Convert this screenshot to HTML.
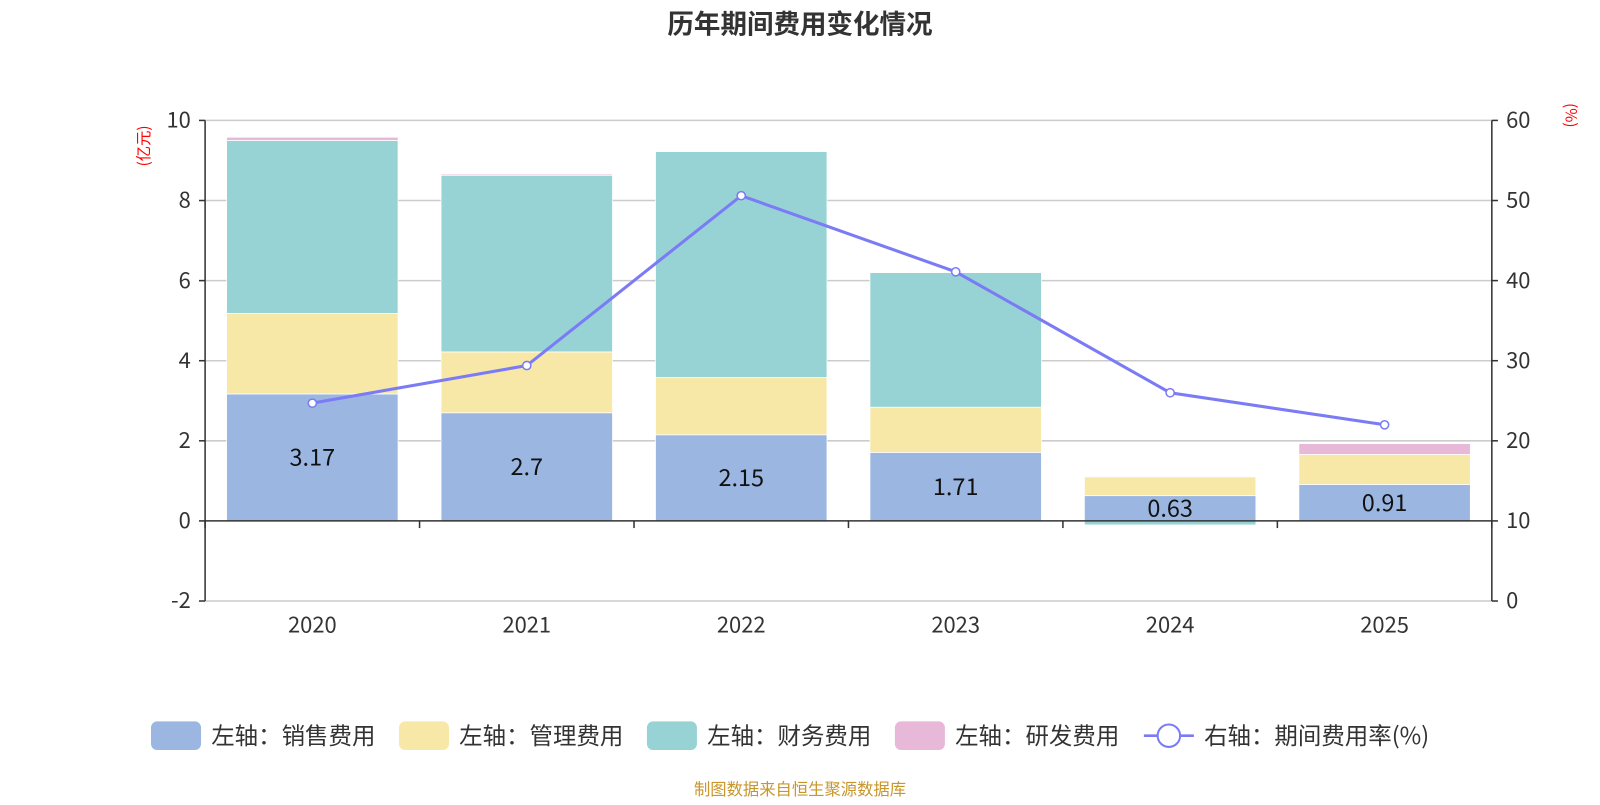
<!DOCTYPE html>
<html><head><meta charset="utf-8"><style>
body{margin:0;background:#fff;}
svg text{font-family:"Noto Sans CJK SC","Liberation Sans",sans-serif;}
</style></head><body>
<svg id="chart" width="1600" height="800" xmlns="http://www.w3.org/2000/svg">
<g transform="scale(1.0204)">
<text x="784" y="33" text-anchor="middle" font-size="26" font-weight="bold" fill="#333">历年期间费用变化情况</text>
<text transform="translate(146,143) rotate(-90)" text-anchor="middle" font-size="15" fill="#f00">(亿元)</text>
<text transform="translate(1534,113) rotate(90)" text-anchor="middle" font-size="15" fill="#f00">(%)</text>
<g id="grid"></g><g id="bars"></g><g id="axes"></g><g id="line"></g><g id="legend"></g>
<text x="784" y="779" text-anchor="middle" font-size="16" fill="#c8962a">制图数据来自恒生聚源数据库</text>
</g>
</svg>
<script>
const categories=['2020','2021','2022','2023','2024','2025'];
const sales=[3.17,2.7,2.15,1.71,0.63,0.91];
const mgmt=[2.01,1.52,1.43,1.13,0.47,0.75];
const fin=[4.32,4.41,5.64,3.36,-0.1,0.0];
const rd=[0.08,0.03,0.02,0,0,0.27];
const rate=[24.7,29.4,50.6,41.1,26.0,22.0];
const leftTicks=[-2,0,2,4,6,8,10];
const rightTicks=[0,10,20,30,40,50,60];
const NS='http://www.w3.org/2000/svg';
const L=201,R=1462,T=118,B=589;
const yL=v=>T+(10-v)*(B-T)/12;
const yR=v=>B-v*(B-T)/60;
const bw=(R-L)/categories.length;
const xC=i=>L+bw*(i+0.5);
function mk(tag,attrs,parent){const e=document.createElementNS(NS,tag);for(const k in attrs)e.setAttribute(k,attrs[k]);document.getElementById(parent).appendChild(e);return e;}
leftTicks.forEach(t=>{
 if(t!==0){const g=mk('line',{x1:L,x2:R,y1:yL(t),y2:yL(t),stroke:'#ccc','stroke-width':1.5},'grid');
 
 }
 const tx=mk('text',{x:L-14,y:yL(t)+7,'text-anchor':'end','font-size':21.5,fill:'#333'},'axes');tx.textContent=t;
 
 
 mk('line',{x1:L-6,x2:L,y1:yL(t),y2:yL(t),stroke:'#333','stroke-width':1.5},'axes');
});
rightTicks.forEach(t=>{
 const tx=mk('text',{x:R+14,y:yR(t)+7,'font-size':21.5,fill:'#333'},'axes');tx.textContent=t;
 
 
 mk('line',{x1:R,x2:R+6,y1:yR(t),y2:yR(t),stroke:'#333','stroke-width':1.5},'axes');
});
const series=[[sales,'#9bb7e1','sales'],[mgmt,'#f8e8a8','mgmt'],[fin,'#97d3d5','finance'],[rd,'#e8b8d8','rd']];
categories.forEach((c,i)=>{
 let pos=0,neg=0;
 series.forEach(([arr,col,nm])=>{
  const v=arr[i];if(v===0)return;
  let y0,y1;
  if(v>0){y0=pos;y1=pos+v;pos=y1;}else{y0=neg+v;y1=neg;neg=y0;}
  const r=mk('rect',{x:xC(i)-84,width:168,y:yL(y1),height:Math.abs(yL(y0)-yL(y1)),fill:col,stroke:'#fff','stroke-width':0.7},'bars');
  
  
 });
 const lb=mk('text',{x:xC(i),y:(yL(0)+yL(sales[i]))/2+8,'text-anchor':'middle','font-size':23,fill:'#111'},'bars');lb.textContent=sales[i];
 
 
 const xl=mk('text',{x:xC(i),y:620,'text-anchor':'middle','font-size':21.5,fill:'#333'},'axes');xl.textContent=c;
 
 
});
mk('line',{x1:L,x2:L,y1:T,y2:B,stroke:'#333','stroke-width':1.5},'axes');
mk('line',{x1:R,x2:R,y1:T,y2:B,stroke:'#333','stroke-width':1.5},'axes');
mk('line',{x1:L,x2:R,y1:yL(0),y2:yL(0),stroke:'#333','stroke-width':1.5},'axes');
for(let i=0;i<=categories.length;i++)mk('line',{x1:L+bw*i,x2:L+bw*i,y1:yL(0),y2:yL(0)+7,stroke:'#333','stroke-width':1.5},'axes');
const pl=mk('polyline',{points:rate.map((v,i)=>xC(i)+','+yR(v)).join(' '),fill:'none',stroke:'#7b7bf5','stroke-width':3},'line');


rate.forEach((v,i)=>{const p=mk('circle',{cx:xC(i),cy:yR(v),r:4,fill:'#fff',stroke:'#7b7bf5','stroke-width':1.5},'line');
 
 });
const leg=[['左轴：销售费用','#9bb7e1',148],['左轴：管理费用','#f8e8a8',391],['左轴：财务费用','#97d3d5',634],['左轴：研发费用','#e8b8d8',877]];
leg.forEach(([t,c,x])=>{
 const r=mk('rect',{x:x,y:707,width:49,height:28,rx:6,fill:c},'legend');
 
 
 const tx=mk('text',{x:x+59,y:729,'font-size':23,fill:'#333'},'legend');tx.textContent=t;
 
 
});
mk('line',{x1:1121,x2:1170,y1:721,y2:721,stroke:'#7b7bf5','stroke-width':2.5},'legend');
const lc=mk('circle',{cx:1145.5,cy:721,r:11,fill:'#fff',stroke:'#7b7bf5','stroke-width':2},'legend');


const lt=mk('text',{x:1180,y:729,'font-size':23,fill:'#333'},'legend');lt.textContent='右轴：期间费用率(%)';


</script>
</body></html>
